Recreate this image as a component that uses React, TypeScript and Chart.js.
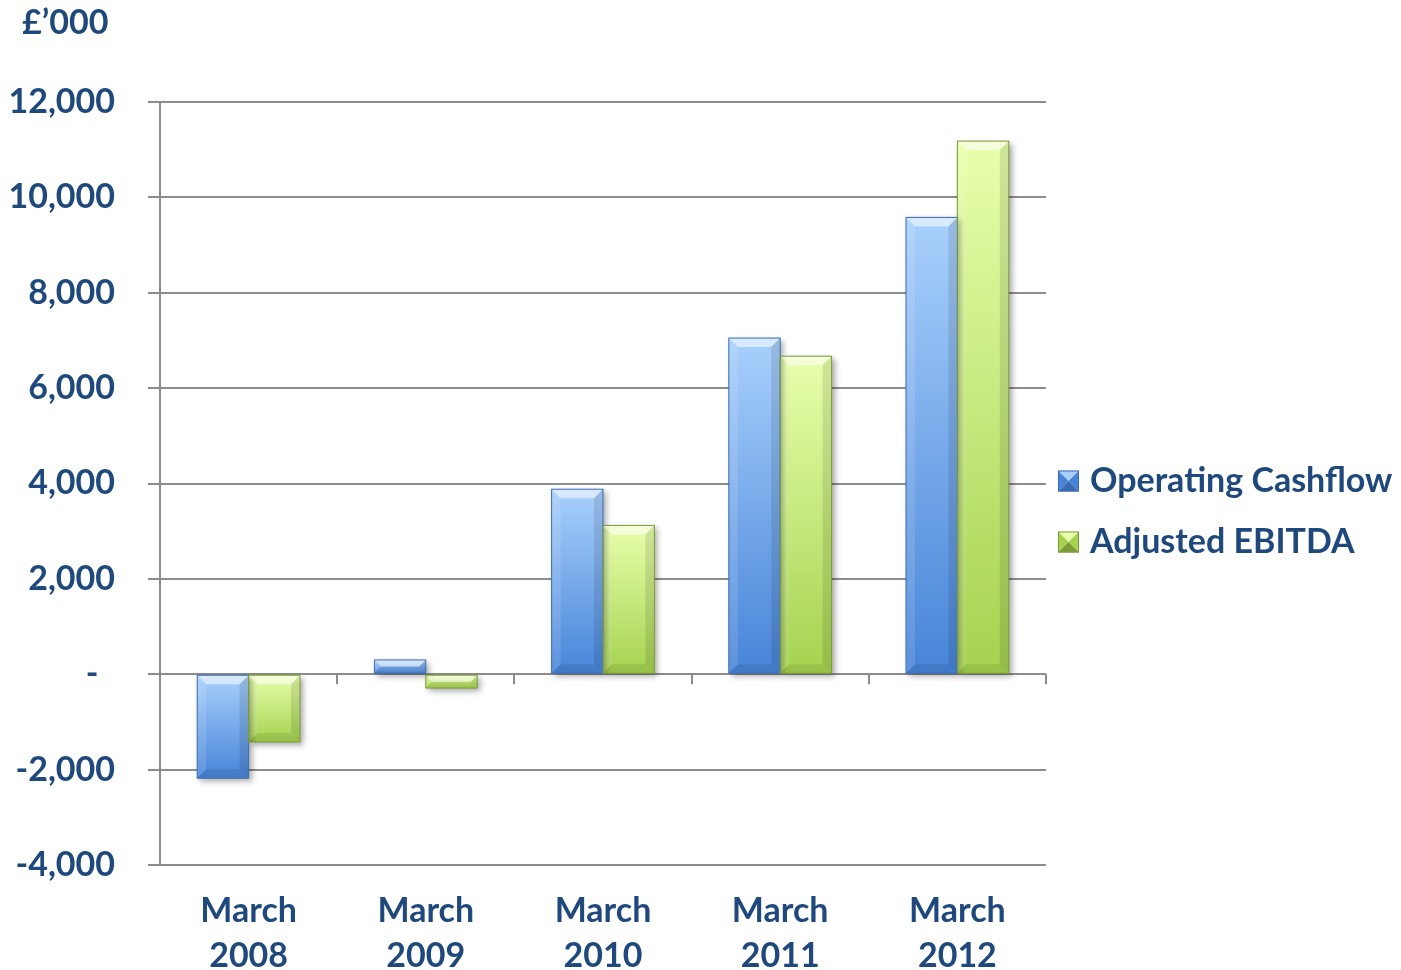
import React, { useEffect, useRef } from 'react';
import { Chart, registerables } from 'chart.js';

Chart.register(...registerables);

const categories: string[][] = [
  ['March', '2008'],
  ['March', '2009'],
  ['March', '2010'],
  ['March', '2011'],
  ['March', '2012'],
];
const operatingCashflow = [-2180, 300, 3880, 7050, 9580];
const adjustedEbitda = [-1420, -290, 3120, 6670, 11180];
const seriesNames = ['Operating Cashflow', 'Adjusted EBITDA'];
const unitLabel = '£’000';
const yMin = -4000;
const yMax = 12000;
const yStep = 2000;

const TEXT = '#1F497D';
const GRID = '#8C8C8C';
const FONT = 'Lato, "Open Sans", sans-serif';
const FSIZE = 34;

const palettes = [
  { light: '#A9D0FC', dark: '#4784D8', border: '#3A6CB3' },
  { light: '#E8FFAC', dark: '#A5D24F', border: '#7C9C38' },
];

function barGradient(ctx: any, p: { light: string; dark: string }) {
  const chart = ctx.chart;
  const y = chart.scales && chart.scales.y;
  if (!y || ctx.type !== 'data') return p.dark;
  const v = ctx.raw as number;
  const top = y.getPixelForValue(Math.max(v, 0));
  const bot = y.getPixelForValue(Math.min(v, 0));
  if (!isFinite(top) || !isFinite(bot) || bot - top < 0.5) return p.dark;
  const g = chart.ctx.createLinearGradient(0, top, 0, bot);
  g.addColorStop(0, p.light);
  g.addColorStop(1, p.dark);
  return g;
}

const decorPlugin = {
  id: 'decor',
  beforeDatasetsDraw(chart: any) {
    const { ctx, chartArea, scales } = chart;
    const y0 = scales.y.getPixelForValue(0);
    ctx.save();
    ctx.strokeStyle = GRID;
    ctx.lineWidth = 2;
    const w = (chartArea.right - chartArea.left) / categories.length;
    for (let k = 1; k <= categories.length; k++) {
      const x = Math.round(chartArea.left + k * w);
      ctx.beginPath();
      ctx.moveTo(x, y0);
      ctx.lineTo(x, y0 + 10);
      ctx.stroke();
    }
    ctx.restore();
    ctx.save();
    ctx.shadowColor = 'rgba(0,0,0,0.35)';
    ctx.shadowBlur = 6;
    ctx.shadowOffsetX = 3;
    ctx.shadowOffsetY = 3;
  },
  afterDatasetsDraw(chart: any) {
    const { ctx } = chart;
    ctx.restore();
    chart.data.datasets.forEach((ds: any, di: number) => {
      const meta = chart.getDatasetMeta(di);
      const pal = palettes[di];
      meta.data.forEach((el: any) => {
        const { x, y, base, width } = el.getProps(['x', 'y', 'base', 'width'], true);
        const left = x - width / 2;
        const right = x + width / 2;
        const top = Math.min(y, base);
        const bottom = Math.max(y, base);
        const b = Math.min(9, (bottom - top) / 2);
        ctx.save();
        const poly = (pts: number[][], fill: string) => {
          ctx.beginPath();
          ctx.moveTo(pts[0][0], pts[0][1]);
          for (let i = 1; i < pts.length; i++) ctx.lineTo(pts[i][0], pts[i][1]);
          ctx.closePath();
          ctx.fillStyle = fill;
          ctx.fill();
        };
        poly([[left, top], [right, top], [right - b, top + b], [left + b, top + b]], 'rgba(255,255,255,0.55)');
        poly([[left, top], [left + b, top + b], [left + b, bottom - b], [left, bottom]], 'rgba(255,255,255,0.12)');
        poly([[right, top], [right - b, top + b], [right - b, bottom - b], [right, bottom]], 'rgba(0,0,0,0.1)');
        poly([[left, bottom], [left + b, bottom - b], [right - b, bottom - b], [right, bottom]], 'rgba(0,0,0,0.08)');
        ctx.strokeStyle = pal.border;
        ctx.lineWidth = 1;
        ctx.strokeRect(left, top, width, bottom - top);
        ctx.restore();
      });
    });
  },
  afterDraw(chart: any) {
    const { ctx } = chart;
    ctx.save();
    ctx.fillStyle = TEXT;
    ctx.font = `bold ${FSIZE}px ${FONT}`;
    ctx.textBaseline = 'middle';
    ctx.textAlign = 'left';
    ctx.fillText(unitLabel, 22, 23);
    const boxX = 1058;
    const size = 21;
    const ys = [481, 542];
    seriesNames.forEach((name, i) => {
      const pal = palettes[i];
      const cy = ys[i];
      const l = boxX, t = cy - size / 2, r = boxX + size, bt = cy + size / 2;
      const cx = l + size / 2, cyy = t + size / 2;
      const tri = (pts: number[][], fill: string) => {
        ctx.beginPath();
        ctx.moveTo(pts[0][0], pts[0][1]);
        for (let k = 1; k < pts.length; k++) ctx.lineTo(pts[k][0], pts[k][1]);
        ctx.closePath();
        ctx.fillStyle = fill;
        ctx.fill();
      };
      tri([[l, t], [r, t], [cx, cyy]], pal.light);
      tri([[l, t], [cx, cyy], [l, bt]], pal.dark);
      tri([[r, t], [cx, cyy], [r, bt]], pal.dark);
      tri([[l, bt], [cx, cyy], [r, bt]], pal.border);
      ctx.strokeStyle = pal.border;
      ctx.lineWidth = 1;
      ctx.strokeRect(l + 0.5, t + 0.5, size - 1, size - 1);
      ctx.fillStyle = TEXT;
      ctx.fillText(name, 1090, cy);
    });
    ctx.restore();
  },
};

export default function App() {
  const ref = useRef<HTMLCanvasElement | null>(null);
  useEffect(() => {
    if (!ref.current) return;
    const chart = new Chart(ref.current, {
      type: 'bar',
      data: {
        labels: categories,
        datasets: [
          {
            label: seriesNames[0],
            data: operatingCashflow,
            backgroundColor: (c: any) => barGradient(c, palettes[0]),
            borderWidth: 0,
            categoryPercentage: 0.58,
            barPercentage: 1,
          },
          {
            label: seriesNames[1],
            data: adjustedEbitda,
            backgroundColor: (c: any) => barGradient(c, palettes[1]),
            borderWidth: 0,
            categoryPercentage: 0.58,
            barPercentage: 1,
          },
        ],
      },
      options: {
        responsive: false,
        animation: false,
        layout: { padding: { top: 102, right: 355, left: 0, bottom: 0 } },
        plugins: {
          legend: { display: false },
          title: { display: false },
          tooltip: { enabled: false },
        },
        scales: {
          x: {
            grid: { display: false },
            border: { display: false },
            ticks: {
              color: TEXT,
              font: { family: FONT, size: FSIZE, weight: 'bold', lineHeight: 1.32 },
              padding: 16,
              maxRotation: 0,
              autoSkip: false,
            },
            afterFit: (s: any) => {
              s.height = 105;
            },
          },
          y: {
            min: yMin,
            max: yMax,
            ticks: {
              stepSize: yStep,
              color: TEXT,
              font: { family: FONT, size: FSIZE, weight: 'bold' },
              padding: 33,
              callback: (v: any) => (v === 0 ? '-  ' : Number(v).toLocaleString('en-US')),
            },
            grid: { color: GRID, lineWidth: 2, tickLength: 12, drawTicks: true },
            border: { display: true, color: GRID, width: 2 },
            afterFit: (s: any) => {
              s.width = 160;
            },
          },
        },
      },
      plugins: [decorPlugin],
    } as any);
    return () => chart.destroy();
  }, []);
  return (
    <div style={{ position: 'absolute', left: 0, top: 0, width: 1401, height: 970, background: '#fff' }}>
      <canvas ref={ref} width={1401} height={970} style={{ display: 'block' }} />
    </div>
  );
}
